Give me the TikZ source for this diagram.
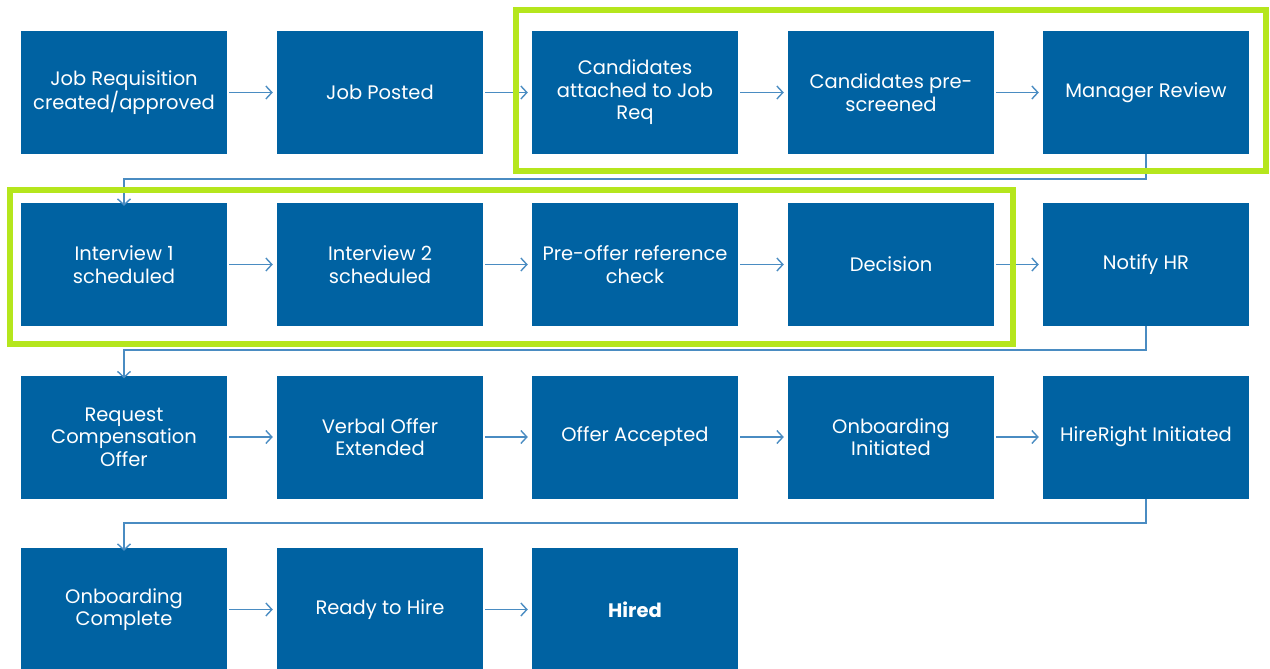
\documentclass[tikz,border=0pt]{standalone}
\usepackage{fontspec}
\setmainfont{Poppins}
\usetikzlibrary{arrows.meta}
\definecolor{boxblue}{RGB}{0,98,162}
\definecolor{linkblue}{RGB}{74,140,194}
\definecolor{hilite}{RGB}{181,230,29}
\tikzset{
  stepbox/.style={fill=boxblue, draw=none, minimum width=206pt, minimum height=123pt,
    inner sep=0pt, text=white, align=center,
    font=\fontsize{19.5}{22.5}\selectfont},
  link/.style={draw=linkblue, line width=1.4pt,
    -{Straight Barb[length=6pt,width=13pt,line width=1.4pt]}},
  frame/.style={draw=hilite, line width=6pt}
}
\begin{document}
\begin{tikzpicture}[x=1pt,y=-1pt]
\useasboundingbox (0,0) rectangle (1270,669);
\clip (0,0) rectangle (1270,669);
% row 1
\node[stepbox] (a1) at (124,92.5)  {Job Requisition\\created/approved};
\node[stepbox] (a2) at (380,92.5)  {Job Posted};
\node[stepbox] (a3) at (635,92.5)  {Candidates\\attached to Job\\Req};
\node[stepbox] (a4) at (891,92.5)  {Candidates pre-\\screened};
\node[stepbox] (a5) at (1146,92.5) {Manager Review};
% row 2
\node[stepbox] (b1) at (124,264.5)  {Interview 1\\scheduled};
\node[stepbox] (b2) at (380,264.5)  {Interview 2\\scheduled};
\node[stepbox] (b3) at (635,264.5)  {Pre-offer reference\\check};
\node[stepbox] (b4) at (891,264.5)  {Decision};
\node[stepbox] (b5) at (1146,264.5) {Notify HR};
% row 3
\node[stepbox] (c1) at (124,437)  {Request\\Compensation\\Offer};
\node[stepbox] (c2) at (380,437)  {Verbal Offer\\Extended};
\node[stepbox] (c3) at (635,437)  {Offer Accepted};
\node[stepbox] (c4) at (891,437)  {Onboarding\\Initiated};
\node[stepbox] (c5) at (1146,437) {HireRight Initiated};
% row 4
\node[stepbox] (d1) at (124,609.5) {Onboarding\\Complete};
\node[stepbox] (d2) at (380,609.5) {Ready to Hire};
\node[stepbox] (d3) at (635,609.5) {\bfseries Hired};

% horizontal links
\foreach \r in {a,b,c}{
  \foreach \i/\j in {1/2,2/3,3/4,4/5}{
    \draw[link] ([xshift=2pt]\r\i.east) -- ([xshift=-4pt]\r\j.west);
  }
}
\draw[link] ([xshift=2pt]d1.east) -- ([xshift=-4pt]d2.west);
\draw[link] ([xshift=2pt]d2.east) -- ([xshift=-4pt]d3.west);

% row-to-row links
\coordinate (k1) at (1146,179);
\coordinate (k2) at (1146,350);
\coordinate (k3) at (1146,523);
\draw[link] (a5.south) -- (k1) -| ([yshift=-3pt]b1.north);
\draw[link] (b5.south) -- (k2) -| ([yshift=-3pt]c1.north);
\draw[link] (c5.south) -- (k3) -| ([yshift=-3pt]d1.north);

% highlight frames
\draw[frame] (516,10) rectangle (1266,171);
\draw[frame] (10,190) rectangle (1013,344);
\end{tikzpicture}
\end{document}
